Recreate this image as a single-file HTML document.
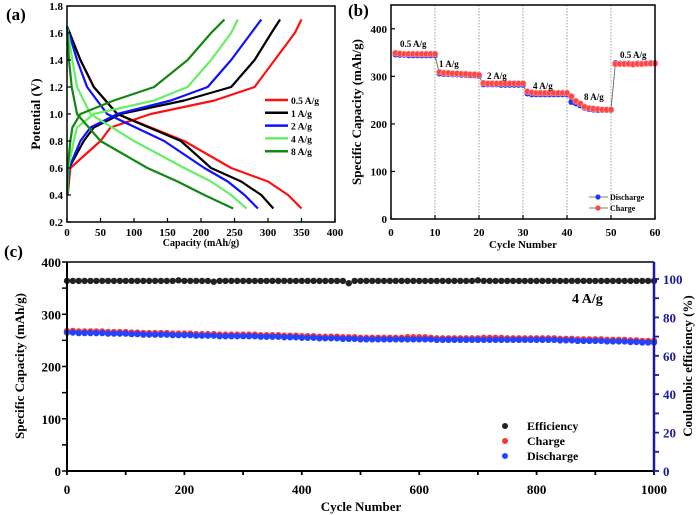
<!DOCTYPE html>
<html><head><meta charset="utf-8"><style>
body{margin:0;background:#fff;}
svg{display:block;font-family:"Liberation Serif",serif;font-weight:bold;}
</style></head><body>
<svg id="fig" width="700" height="515" viewBox="0 0 700 515">
</svg>
<script>
// ---------- Panel (a) data ----------
const aRates = ["0.5 A/g","1 A/g","2 A/g","4 A/g","8 A/g"];
const aColors = ["#ff1010","#000000","#1010ff","#66ee66","#118811"];
const chargeV = [0.4,0.6,0.8,0.9,1.0,1.1,1.2,1.4,1.6,1.7];
const chargeCap = [
 [1,5,50,65,125,220,280,310,340,350],
 [1,3,25,40,80,175,245,280,305,318],
 [1,3,20,35,75,155,210,245,275,290],
 [1,2,10,15,40,130,180,215,245,255],
 [0.5,1,5,8,20,70,130,180,215,235]];
const dischV = [1.65,1.4,1.2,1.0,0.8,0.6,0.5,0.4,0.3];
const dischCap = [
 [0,20,40,75,175,245,300,330,350],
 [0,20,40,75,170,215,260,290,308],
 [0,15,30,60,145,205,240,265,285],
 [0,8,15,35,100,175,215,245,268],
 [0,3,7,15,50,120,165,205,248]];
// ---------- Panel (b) data ----------
const bCycles = Array.from({length:60},(_, i)=>i+1);
const bCharge = [349,348,347,347,347,347,347,347,347,347,
 309,307,307,306,306,305,305,304,304,303,
 286,285,285,285,285,285,285,285,285,285,
 268,266,265,265,265,265,265,265,265,265,
 258,248,243,236,233,232,231,230,230,230,
 326,326,326,326,325,326,326,327,327,327];
const bDischarge = [346,345,345,344,344,344,344,344,344,344,
 306,305,305,304,304,303,303,302,302,301,
 283,283,283,283,282,282,282,282,282,282,
 264,262,262,262,262,262,262,262,262,262,
 246,243,239,234,231,230,229,229,229,229,
 328,327,327,327,326,327,327,327,328,328];
const bLabels = ["0.5 A/g","1 A/g","2 A/g","4 A/g","8 A/g","0.5 A/g"];
// ---------- Panel (c) data (every 10 cycles) ----------
const cDischarge = [265,265,264,264,264,264,264,263,263,263,263,262,262,261,261,261,261,261,260,260,
 260,260,259,259,259,259,258,258,258,258,258,258,258,257,257,257,257,256,256,256,
 255,255,255,254,254,254,254,253,253,253,252,252,252,252,252,252,252,252,252,252,
 252,252,252,251,251,251,251,251,251,251,251,251,251,251,251,251,251,251,251,251,
 251,251,251,251,250,250,250,249,249,249,249,249,248,248,248,248,247,247,246,246,246];
const cCharge = [268,268,267,267,267,267,267,266,266,266,266,265,265,264,264,264,264,264,263,263,
 263,263,262,262,262,262,261,261,261,261,261,261,261,260,260,260,260,259,259,259,
 258,258,258,257,257,257,257,256,256,256,255,255,255,255,255,255,255,255,256,256,
 256,256,255,254,254,254,254,254,254,254,254,255,255,255,255,254,254,254,254,254,
 254,254,254,254,253,253,253,252,252,252,252,252,251,251,251,251,250,250,249,249,249];
const cEff = [99,99,99,99,99,99,99,99,99,99,99,99,99,99,99,99,99,99,99,99.3,
 99,99,99,99,99,98.6,99,99,99,99,99,99,99,99,99,99,99,99,99,99,
 99,99,99,99,99,99,99,99,97.8,99,99,99,99,99,99,99,99,99,99,99,
 99,99,99,99,99,99,99,99,99,99,99.3,99,99,99,99,99,99,99,99,99,
 99,99,99,99,99,99,99,99,99,99,99,99,99,99,99,99,99,99,99,99,99];

const NS="http://www.w3.org/2000/svg";
const svg=document.getElementById('fig');
function mk(tag,attrs,parent,txt){const e=document.createElementNS(NS,tag);for(const k in attrs)e.setAttribute(k,attrs[k]);if(txt!==undefined)e.textContent=txt;(parent||svg).appendChild(e);return e;}

// ===== Panel A =====
const ax=v=>67+(v/400)*268, ay=v=>222-(v-0.2)/1.6*216;
const gA=mk('g',{});


for(let r=0;r<5;r++){
  let d=chargeV.map((v,i)=>(i?'L':'M')+ax(chargeCap[r][i])+' '+ay(v)).join(' ');
  const p=mk('path',{d:d,fill:'none',stroke:aColors[r],'stroke-width':2.2,'stroke-linejoin':'round'},gA);
  
  
  d=dischV.map((v,i)=>(i?'L':'M')+ax(dischCap[r][i])+' '+ay(v)).join(' ');
  const q=mk('path',{d:d,fill:'none',stroke:aColors[r],'stroke-width':2.2,'stroke-linejoin':'round'},gA);
  
  
}
mk('rect',{x:67,y:6,width:268,height:216,fill:'none',stroke:'#000','stroke-width':1.5},gA);
for(let v=0;v<=400;v+=50){mk('line',{x1:ax(v),x2:ax(v),y1:222,y2:218,stroke:'#000','stroke-width':1.2},gA);
 mk('text',{x:ax(v),y:236,'font-size':11,'text-anchor':'middle'},gA,v);}
for(let v=0.2;v<=1.81;v+=0.2){mk('line',{x1:67,x2:71,y1:ay(v),y2:ay(v),stroke:'#000','stroke-width':1.2},gA);
 mk('text',{x:63,y:ay(v)+4,'font-size':11,'text-anchor':'end'},gA,v.toFixed(1));}
mk('text',{x:201,y:246,'font-size':10,'text-anchor':'middle'},gA,'Capacity (mAh/g)');
mk('text',{x:0,y:0,'font-size':13,'text-anchor':'middle',transform:'translate(40,114) rotate(-90)'},gA,'Potential (V)');
mk('text',{x:6,y:20,'font-size':17},gA,'(a)');
aRates.forEach((t,i)=>{const y=100+i*12.8;
 mk('line',{x1:265,x2:288,y1:y,y2:y,stroke:aColors[i],'stroke-width':2.5},gA);
 mk('text',{x:291,y:y+4,'font-size':9.5},gA,t);});

// ===== Panel B =====
const bx=v=>391+v/60*264, by=v=>219-v/450*214;
const gB=mk('g',{});


[10,20,30,40,50].forEach(c=>mk('line',{x1:bx(c),x2:bx(c),y1:5,y2:219,stroke:'#888','stroke-width':0.8,'stroke-dasharray':'1.5,1.5'},gB));
mk('path',{d:bCycles.map((c,i)=>(i?'L':'M')+bx(c)+' '+by(bDischarge[i])).join(' '),fill:'none',stroke:'#555','stroke-width':0.8},gB);
bCycles.forEach((c,i)=>{const m=mk('circle',{cx:bx(c),cy:by(bDischarge[i]),r:3,fill:'#2233ff'},gB);
 
 });
bCycles.forEach((c,i)=>{const m=mk('circle',{cx:bx(c),cy:by(bCharge[i]),r:3,fill:'#ff4444',stroke:'#ffaaaa','stroke-width':0.6},gB);
 
 });
mk('rect',{x:391,y:5,width:264,height:214,fill:'none',stroke:'#000','stroke-width':1.5},gB);
for(let v=0;v<=60;v+=10){mk('line',{x1:bx(v),x2:bx(v),y1:219,y2:215,stroke:'#000','stroke-width':1.2},gB);
 mk('text',{x:bx(v),y:236,'font-size':11,'text-anchor':'middle'},gB,v);}
for(let v=0;v<=400;v+=100){mk('line',{x1:391,x2:395,y1:by(v),y2:by(v),stroke:'#000','stroke-width':1.2},gB);
 mk('text',{x:387,y:by(v)+4,'font-size':11,'text-anchor':'end'},gB,v);}
mk('text',{x:523,y:248,'font-size':11,'text-anchor':'middle'},gB,'Cycle Number');
mk('text',{x:0,y:0,'font-size':13,'text-anchor':'middle',transform:'translate(361,112) rotate(-90)'},gB,'Specific Capacity (mAh/g)');
mk('text',{x:348,y:16,'font-size':17},gB,'(b)');
[[400,47],[439,67],[487,79],[533,89],[584,100],[620,58]].forEach((p,i)=>mk('text',{x:p[0],y:p[1],'font-size':9},gB,bLabels[i]));
[['Discharge','#2233ff',197],['Charge','#ff4444',208]].forEach(l=>{
 mk('line',{x1:589,x2:608,y1:l[2],y2:l[2],stroke:'#555','stroke-width':0.8},gB);
 mk('circle',{cx:598,cy:l[2],r:2.6,fill:l[1]},gB);
 mk('text',{x:610,y:l[2]+3,'font-size':8},gB,l[0]);});

// ===== Panel C =====
const cx=v=>67+v/1000*587, cy=v=>471-v/400*209, ey=v=>471-v/100*192;
const gC=mk('g',{});


cEff.forEach((v,i)=>{const m=mk('circle',{cx:cx(i*10),cy:ey(v),r:3.2,fill:'#222'},gC);
 
 });
cCharge.forEach((v,i)=>{const m=mk('circle',{cx:cx(i*10),cy:cy(v),r:3.2,fill:'#ff3333'},gC);
 
 });
cDischarge.forEach((v,i)=>{const m=mk('circle',{cx:cx(i*10),cy:cy(v),r:3.2,fill:'#2244ff'},gC);
 
 });
mk('line',{x1:67,x2:654,y1:262,y2:262,stroke:'#000','stroke-width':1.5},gC);
mk('line',{x1:67,x2:654,y1:471,y2:471,stroke:'#000','stroke-width':2},gC);
mk('line',{x1:67,x2:67,y1:262,y2:471,stroke:'#000','stroke-width':2},gC);
mk('line',{x1:654,x2:654,y1:262,y2:471,stroke:'#1a1aa0','stroke-width':2.5},gC);
for(let v=0;v<=1000;v+=100){mk('line',{x1:cx(v),x2:cx(v),y1:471,y2:475,stroke:'#000','stroke-width':1.8},gC);
 if(v%200===0)mk('text',{x:cx(v),y:494,'font-size':13,'text-anchor':'middle'},gC,v);}
for(let v=0;v<=400;v+=50){mk('line',{x1:62,x2:67,y1:cy(v),y2:cy(v),stroke:'#000','stroke-width':1.5},gC);
 if(v%100===0)mk('text',{x:61,y:cy(v)+5,'font-size':13,'text-anchor':'end'},gC,v);}
for(let v=0;v<=100;v+=10){mk('line',{x1:654,x2:659,y1:ey(v),y2:ey(v),stroke:'#1a1aa0','stroke-width':1.8},gC);
 if(v%20===0)mk('text',{x:663,y:ey(v)+5,'font-size':13,fill:'#1a1aa0'},gC,v);}
mk('text',{x:361,y:511,'font-size':13,'text-anchor':'middle'},gC,'Cycle Number');
mk('text',{x:0,y:0,'font-size':13,'text-anchor':'middle',transform:'translate(24,366) rotate(-90)'},gC,'Specific Capacity (mAh/g)');
mk('text',{x:0,y:0,'font-size':13,'text-anchor':'middle',transform:'translate(692,366) rotate(-90)'},gC,'Coulombic efficiency (%)');
mk('text',{x:4,y:257,'font-size':17},gC,'(c)');
mk('text',{x:572,y:303,'font-size':14},gC,'4 A/g');
[['Efficiency','#222',426],['Charge','#ff3333',441],['Discharge','#2244ff',456]].forEach(l=>{
 mk('circle',{cx:505,cy:l[2],r:3,fill:l[1]},gC);
 mk('text',{x:527,y:l[2]+4,'font-size':12},gC,l[0]);});
</script>
</body></html>
